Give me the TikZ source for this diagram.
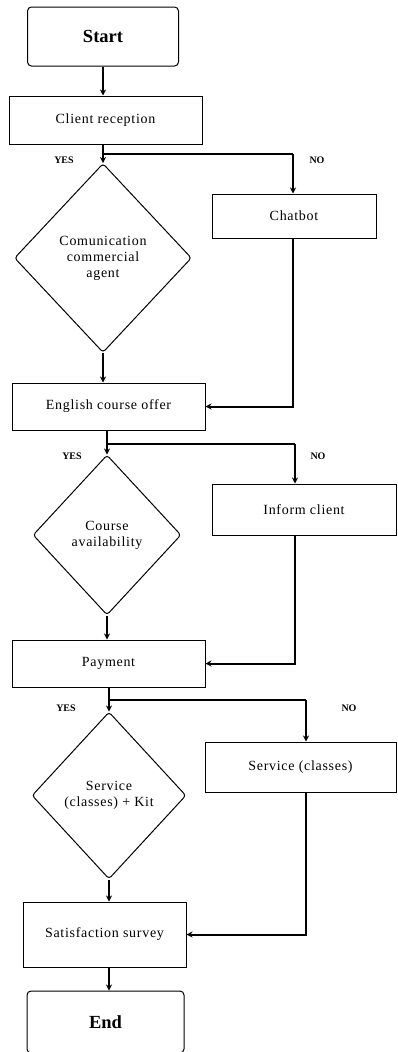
\documentclass[tikz,border=0pt]{standalone}
\usepackage{fontspec}
\setmainfont{Liberation Serif}
\newfontfamily\stepfont{Liberation Serif}[LetterSpace=5]
\usetikzlibrary{shapes.geometric,arrows.meta}

\begin{document}
\begin{tikzpicture}[
        x=1pt, y=-1pt,
        every node/.style={align=center},
        terminal/.style={rectangle, draw, line width=1pt, rounded corners=4pt, minimum width=151pt, minimum height=59pt, font=\bfseries\fontsize{18.5}{20}\selectfont},
        stepbox/.style={rectangle, draw, line width=1pt, font=\stepfont\fontsize{14}{16}\selectfont},
        decision/.style={diamond, draw, line width=1pt, rounded corners=3pt, inner sep=0pt, font=\stepfont\fontsize{14}{16}\selectfont},
        answer/.style={font=\bfseries\fontsize{10}{12}\selectfont},
        flow/.style={line width=2pt, -{Stealth[length=6pt, width=6pt]}},
        link/.style={line width=2pt}
    ]
        \useasboundingbox (0,0) rectangle (397,1052);
        \clip (0,0) rectangle (397,1052);

        \node[terminal] (start) at (103, 36.5) {Start};
        \node[stepbox, minimum width=193pt, minimum height=48pt] (reception) at (105.5, 120) {Client reception};
        \node[decision, minimum width=177pt, minimum height=189pt] (agent) at (103, 258) {Comunication\\commercial\\agent};
        \node[stepbox, minimum width=164pt, minimum height=44pt] (chatbot) at (294, 216) {Chatbot};
        \node[stepbox, minimum width=193pt, minimum height=47pt] (offer) at (108.5, 406.5) {English course offer};
        \node[decision, minimum width=148pt, minimum height=160pt] (avail) at (107, 535) {Course\\availability};
        \node[stepbox, minimum width=184pt, minimum height=51pt] (inform) at (304, 509.5) {Inform client};
        \node[stepbox, minimum width=193pt, minimum height=47pt] (payment) at (108.5, 663.5) {Payment};
        \node[decision, minimum width=154pt, minimum height=167pt] (kit) at (109, 795.5) {Service\\(classes) + Kit};
        \node[stepbox, minimum width=191pt, minimum height=50pt] (service) at (300.5, 767) {Service (classes)};
        \node[stepbox, minimum width=163pt, minimum height=65pt] (survey) at (104.5, 934.5) {Satisfaction survey};
        \node[terminal, minimum width=157pt, minimum height=62pt] (end) at (105.5, 1022) {End};

        \node[answer] (yes1) at (64, 160) {YES};
        \node[answer] (no1)  at (317, 160) {NO};
        \node[answer] (yes2) at (72, 456) {YES};
        \node[answer] (no2)  at (318, 456) {NO};
        \node[answer] (yes3) at (66, 708) {YES};
        \node[answer] (no3)  at (349, 708) {NO};

        \coordinate (s1) at (103, 154);
        \coordinate (n1) at (293, 154);
        \coordinate (s2) at (107, 444);
        \coordinate (n2) at (295, 444);
        \coordinate (s3) at (109, 700);
        \coordinate (n3) at (306, 700);

        \draw[flow] (start.south) -- (start.south |- reception.north);

        \draw[link] (reception.south -| s1) -- (s1) -- (n1);
        \draw[flow] (s1) -- (agent.north);
        \draw[flow] (n1) -- (n1 |- chatbot.north);
        \draw[flow] (agent.south) -- (agent.south |- offer.north);
        \draw[flow] (n1 |- chatbot.south) |- (offer.east);

        \draw[link] (offer.south -| s2) -- (s2) -- (n2);
        \draw[flow] (s2) -- (avail.north);
        \draw[flow] (n2) -- (n2 |- inform.north);
        \draw[flow] (avail.south) -- (avail.south |- payment.north);
        \draw[flow] (n2 |- inform.south) |- (payment.east);

        \draw[link] (payment.south -| s3) -- (s3) -- (n3);
        \draw[flow] (s3) -- (kit.north);
        \draw[flow] (n3) -- (n3 |- service.north);
        \draw[flow] (kit.south) -- (kit.south |- survey.north);
        \draw[flow] (n3 |- service.south) |- (survey.east);
        \draw[flow] (survey.south -| s3) -- (s3 |- end.north);
    \end{tikzpicture}
\end{document}
